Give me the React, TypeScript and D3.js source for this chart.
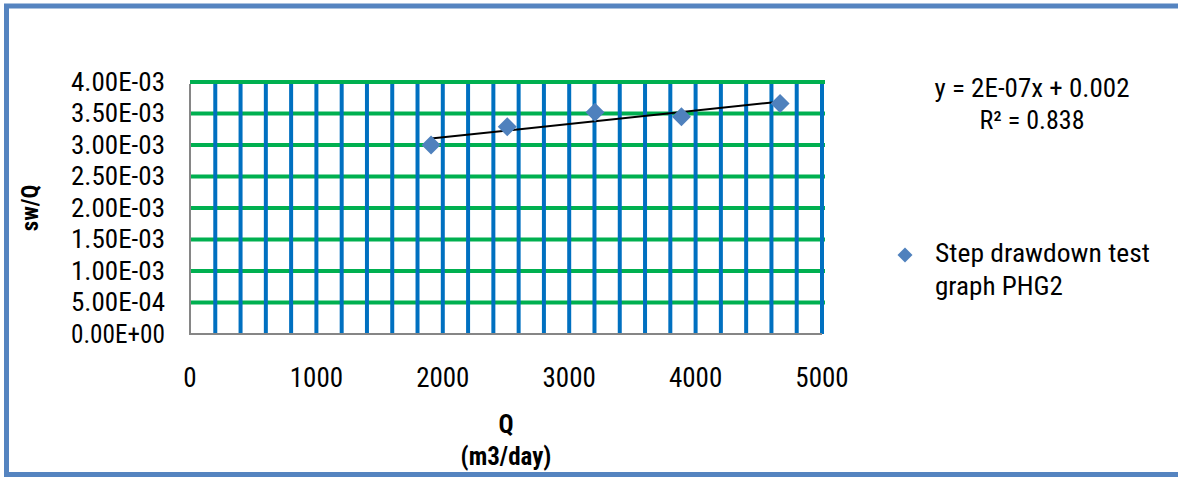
import React, { useEffect, useRef } from "react";
import * as d3 from "d3";

const qValues = [1907, 2510, 3204, 3888, 4668];
const swqValues = [0.003, 0.00329, 0.00352, 0.00345, 0.00366];
const xTicks = [0, 1000, 2000, 3000, 4000, 5000];
const yTicks = [0, 0.0005, 0.001, 0.0015, 0.002, 0.0025, 0.003, 0.0035, 0.004];
const yTickLabels = ["0.00E+00", "5.00E-04", "1.00E-03", "1.50E-03", "2.00E-03", "2.50E-03", "3.00E-03", "3.50E-03", "4.00E-03"];
const seriesName = ["Step drawdown test", "graph PHG2"];
const equationText = "y = 2E-07x + 0.002";
const r2Text = "R² = 0.838";

const W = 1178, H = 477;
const FONT = "'Liberation Sans Narrow', 'Arial Narrow', 'Roboto Condensed', 'Liberation Sans', sans-serif";

export default function App() {
  const ref = useRef<SVGSVGElement>(null);
  useEffect(() => {
    const svg = d3.select(ref.current);
    svg.selectAll("*").remove();
    const left = 190, right = 822, top = 82, bottom = 334;
    const x = d3.scaleLinear().domain([0, 5000]).range([left, right]);
    const y = d3.scaleLinear().domain([0, 0.004]).range([bottom, top]);

    svg.append("rect").attr("x", 0).attr("y", 0).attr("width", W).attr("height", H).attr("fill", "#fff");
    // outer border (open on the right, as in the reference crop)
    svg.append("path").attr("d", `M${W + 10},6 L6.5,6 L6.5,474.5 L${W + 10},474.5`)
      .attr("fill", "none").attr("stroke", "#5584C0").attr("stroke-width", 5);

    // horizontal green gridlines
    svg.append("g").selectAll("line").data(yTicks.slice(1)).join("line")
      .attr("x1", left).attr("x2", right + 3)
      .attr("y1", d => y(d)).attr("y2", d => y(d))
      .attr("stroke", "#00B050").attr("stroke-width", 4);

    // vertical blue gridlines
    const vGrid = d3.range(200, 5001, 200);
    svg.append("g").selectAll("line").data(vGrid).join("line")
      .attr("x1", d => x(d)).attr("x2", d => x(d))
      .attr("y1", top + 2).attr("y2", bottom)
      .attr("stroke", "#0070C0").attr("stroke-width", 4);

    // axes
    svg.append("line").attr("x1", left).attr("x2", left).attr("y1", top + 2).attr("y2", bottom + 1)
      .attr("stroke", "#868686").attr("stroke-width", 2);
    svg.append("line").attr("x1", left - 1).attr("x2", right).attr("y1", bottom).attr("y2", bottom)
      .attr("stroke", "#868686").attr("stroke-width", 2);

    // y tick labels
    svg.append("g").selectAll("text").data(yTicks).join("text")
      .attr("x", left - 25).attr("y", d => y(d))
      .attr("dy", "0.35em").attr("text-anchor", "end")
      .attr("font-family", FONT).attr("font-size", 25).attr("fill", "#000")
      .attr("textLength", 94).attr("lengthAdjust", "spacingAndGlyphs")
      .text((d, i) => yTickLabels[i]);

    // x tick labels
    svg.append("g").selectAll("text").data(xTicks).join("text")
      .attr("x", d => x(d)).attr("y", 387)
      .attr("text-anchor", "middle")
      .attr("font-family", FONT).attr("font-size", 27).attr("fill", "#000")
      .text(d => String(d));

    // axis titles
    svg.append("text").attr("transform", `translate(38,${(top + bottom) / 2}) rotate(-90)`)
      .attr("text-anchor", "middle").attr("font-family", FONT).attr("font-weight", "bold")
      .attr("font-size", 23).text("sw/Q");
    svg.append("text").attr("x", (left + right) / 2).attr("y", 433).attr("text-anchor", "middle")
      .attr("font-family", FONT).attr("font-weight", "bold").attr("font-size", 25).text("Q");
    svg.append("text").attr("x", (left + right) / 2).attr("y", 465).attr("text-anchor", "middle")
      .attr("font-family", FONT).attr("font-weight", "bold").attr("font-size", 25).text("(m3/day)");

    // trendline (least squares)
    const mx = d3.mean(qValues)!, my = d3.mean(swqValues)!;
    let sxy = 0, sxx = 0;
    qValues.forEach((q, i) => { sxy += (q - mx) * (swqValues[i] - my); sxx += (q - mx) * (q - mx); });
    const slope = sxy / sxx, icpt = my - slope * mx;
    const x0 = d3.min(qValues)!, x1 = d3.max(qValues)!;
    svg.append("line").attr("x1", x(x0)).attr("y1", y(icpt + slope * x0))
      .attr("x2", x(x1)).attr("y2", y(icpt + slope * x1))
      .attr("stroke", "#000").attr("stroke-width", 2);

    // markers
    const diamond = (cx: number, cy: number, r: number) => `M${cx},${cy - r}L${cx + r},${cy}L${cx},${cy + r}L${cx - r},${cy}Z`;
    svg.append("g").selectAll("path").data(qValues).join("path")
      .attr("d", (d, i) => diamond(x(d), y(swqValues[i]), 9.5))
      .attr("fill", "#4F81BD");

    // equation
    svg.append("text").attr("x", 1032).attr("y", 97).attr("text-anchor", "middle")
      .attr("font-family", FONT).attr("font-size", 25).attr("textLength", 195).attr("lengthAdjust", "spacingAndGlyphs")
      .text(equationText);
    svg.append("text").attr("x", 1032).attr("y", 129).attr("text-anchor", "middle")
      .attr("font-family", FONT).attr("font-size", 25).attr("textLength", 105).attr("lengthAdjust", "spacingAndGlyphs")
      .text(r2Text);

    // legend
    svg.append("path").attr("d", diamond(905, 255, 7.5)).attr("fill", "#4F81BD");
    svg.append("text").attr("x", 935).attr("y", 262).attr("font-family", FONT).attr("font-size", 26)
      .attr("textLength", 215).attr("lengthAdjust", "spacingAndGlyphs")
      .text(seriesName[0]);
    svg.append("text").attr("x", 935).attr("y", 295).attr("font-family", FONT).attr("font-size", 26)
      .attr("textLength", 128).attr("lengthAdjust", "spacingAndGlyphs")
      .text(seriesName[1]);
  }, []);
  return (
    <svg ref={ref} width={W} height={H} style={{ position: "absolute", left: 0, top: 0, display: "block" }} />
  );
}
